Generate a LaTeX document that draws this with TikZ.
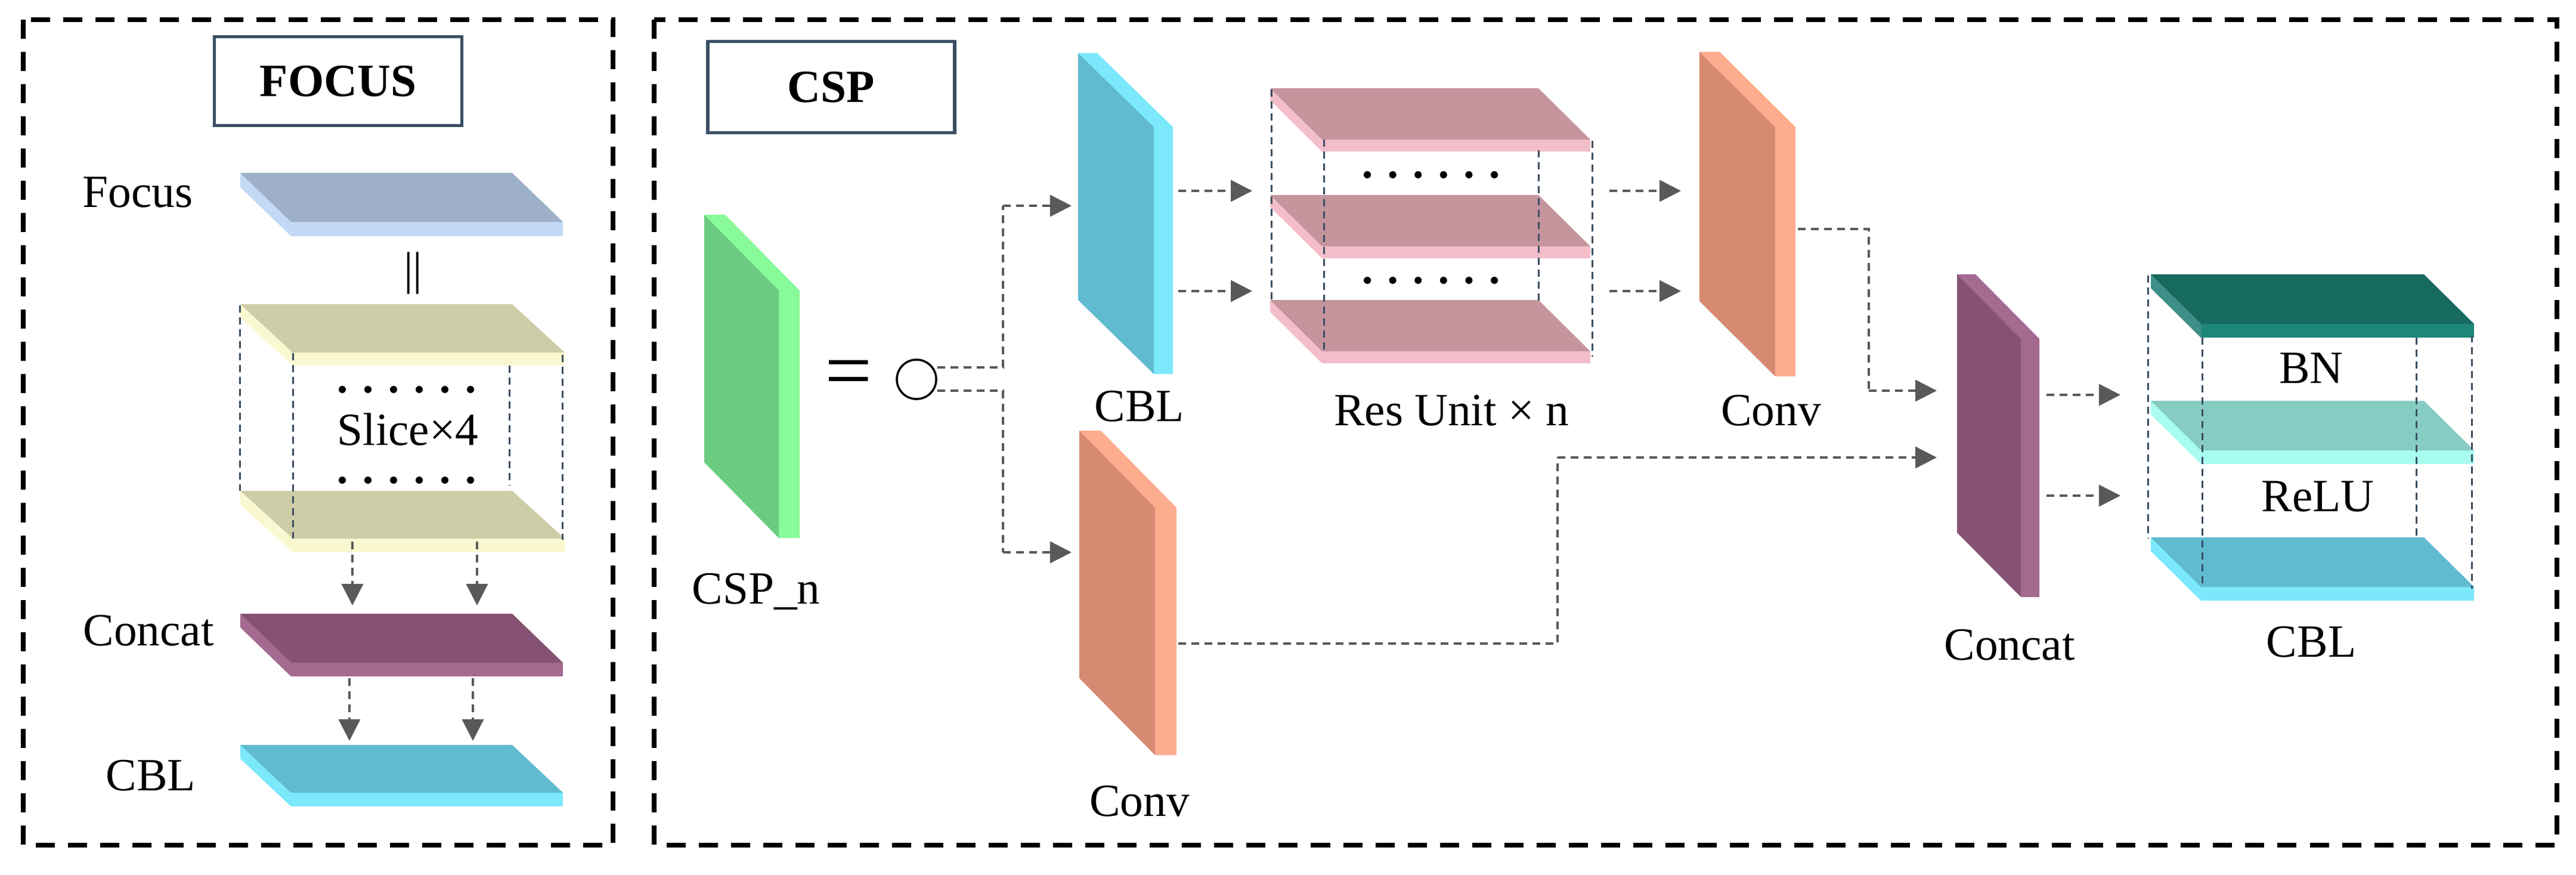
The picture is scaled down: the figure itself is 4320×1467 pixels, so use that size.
\documentclass[tikz,border=0pt]{standalone}
\usepackage{fontspec}
\setmainfont{Liberation Serif}
\usetikzlibrary{arrows.meta}
\definecolor{slate}{HTML}{3A4E63}
\definecolor{agray}{HTML}{595959}
\tikzset{
 arr/.style={agray,line width=0.035cm,dash pattern=on 0.13cm off 0.09cm,-{Triangle[length=0.36cm,width=0.36cm]}},
 ln/.style={agray,line width=0.035cm,dash pattern=on 0.13cm off 0.09cm},
 guide/.style={slate,line width=0.03cm,dash pattern=on 0.12cm off 0.08cm},
 frame/.style={black,line width=0.085cm,dash pattern=on 0.32cm off 0.22cm},
 title/.style={draw=slate,line width=0.055cm,font=\fontsize{22}{26}\selectfont\bfseries,inner sep=0pt},
 lbl/.style={font=\fontsize{22}{26}\selectfont,inner sep=0pt}
}
\newcommand\hplate[9]{%
 \definecolor{ptop}{HTML}{#8}\definecolor{plight}{HTML}{#9}%
 \fill[plight] (#2,#3) -- ({#2+#5},{#3+#6}) -- ({#2+#5},{#3+#6+#7}) -- (#2,{#3+#7}) -- cycle;
 \fill[plight] ({#2+#5},{#3+#6}) rectangle ({#2+#5+#4},{#3+#6+#7});
 \fill[ptop] (#2,#3) -- ({#2+#4},#3) -- ({#2+#4+#5},{#3+#6}) -- ({#2+#5},{#3+#6}) -- cycle;
 \coordinate (#1) at ({#2+#5/2+#4/2},{#3+#6/2});}
\newcommand\vslab[9]{%
 \definecolor{sface}{HTML}{#8}\definecolor{slight}{HTML}{#9}%
 \fill[slight] (#2,#3) -- ({#2+#7},#3) -- ({#2+#4+#7},{#3+#5}) -- ({#2+#4+#7},{#3+#5+#6}) -- ({#2+#4},{#3+#5+#6}) -- ({#2+#4},{#3+#5}) -- cycle;
 \fill[sface] (#2,#3) -- ({#2+#4},{#3+#5}) -- ({#2+#4},{#3+#5+#6}) -- (#2,{#3+#6}) -- cycle;
 \coordinate (#1) at ({#2+#4/2},{#3+#5/2+#6/2});}
\newcommand\dotrow[3]{\foreach \k in {0,...,5}{\fill ({#1+\k*(#2)},#3) circle (6);}}
\begin{document}
\begin{tikzpicture}[x=0.01cm,y=-0.01cm]
\useasboundingbox (0,0) rectangle (4320,1467);
% frames
\draw[frame] (39,33) rectangle (1028,1417);
\draw[frame] (1097,33) rectangle (4288,1417);
\node[title,minimum width=4.15cm,minimum height=1.49cm] (tfocus) at (567,136) {FOCUS};
\node[title,minimum width=4.14cm,minimum height=1.53cm] (tcsp) at (1394,146) {CSP};
% ---------- FOCUS ----------
\hplate{pfocus}{403}{290}{456}{85}{82}{24}{9EAFC8}{C3DAF6}
\node[lbl] (lfocus) at (231,323) {Focus};
\node[lbl] (eq1) at (693,458) {||};
\hplate{ps1}{403}{510}{456}{88}{81}{22}{CDCDA8}{FAF8D0}
\hplate{ps2}{403}{823}{456}{88}{80}{23}{CDCDA8}{FAF8D0}
\draw[guide] (402,512) -- (402,823);
\draw[guide] (491,592) -- (491,903);
\draw[guide] (854,613) -- (854,814);
\draw[guide] (943,595) -- (943,905);
\dotrow{574}{43}{653}
\dotrow{574}{43}{805}
\node[lbl] (lslice) at (684,720) {Slice×4};
\hplate{pconcat}{403}{1029}{456}{85}{82}{23}{865273}{A46A90}
\node[lbl] (lconcat) at (249,1057) {Concat};
\hplate{pcbl}{403}{1249}{456}{85}{80}{23}{60BAD0}{7BE8FC}
\node[lbl] (lcbl) at (253,1300) {CBL};
\coordinate (f1) at (591,908); \coordinate (f2) at (591,1015);
\coordinate (f3) at (800,908); \coordinate (f4) at (800,1015);
\coordinate (f5) at (586,1137); \coordinate (f6) at (586,1242);
\coordinate (f7) at (793,1137); \coordinate (f8) at (793,1242);
\draw[arr] (f1) -- (f2); \draw[arr] (f3) -- (f4);
\draw[arr] (f5) -- (f6); \draw[arr] (f7) -- (f8);
% ---------- CSP ----------
\vslab{scsp}{1181}{360}{125}{127}{415}{35}{6BCC80}{88FA9A}
\node[lbl] (lcspn) at (1268,992) {CSP\_n};
\node[font=\fontsize{40}{44}\selectfont,inner sep=0pt] (eq2) at (1423,636) {=};
\node[draw,circle,line width=0.035cm,minimum size=0.66cm,inner sep=0pt] (circ) at (1537,636) {};
\vslab{scbl}{1808}{89}{127}{124}{414}{32}{60BAD0}{7BE8FC}
\node[lbl] (lcbl2) at (1911,681) {CBL};
\vslab{sconv1}{1810}{722}{127}{129}{415}{36}{D68A72}{FDAD8E}
\node[lbl] (lconv1) at (1911,1343) {Conv};
\hplate{r1}{2130}{148}{450}{87}{86}{20}{C5959E}{F3BECA}
\hplate{r2}{2130}{327}{450}{87}{86}{20}{C5959E}{F3BECA}
\hplate{r3}{2130}{503}{450}{87}{86}{20}{C5959E}{F3BECA}
\draw[guide] (2132,150) -- (2132,505);
\draw[guide] (2220,234) -- (2220,589);
\draw[guide] (2580,252) -- (2580,505);
\draw[guide] (2670,236) -- (2670,598);
\dotrow{2293}{42.6}{293}
\dotrow{2293}{42.6}{470}
\node[lbl] (lres) at (2434,688) {Res Unit × n};
\vslab{sconv2}{2850}{87}{127}{126}{418}{34}{D68A72}{FDAD8E}
\node[lbl] (lconv2) at (2970,688) {Conv};
\vslab{scat}{3282}{460}{107}{108}{433}{31}{865273}{A46A90}
\node[lbl] (lcat2) at (3370,1081) {Concat};
\hplate{b1}{3607}{460}{458}{84}{83}{23}{176A60}{1E8878}
\definecolor{bside}{HTML}{3F8F88}
\fill[bside] (3607,460) -- (3691,543) -- (3691,566) -- (3607,483) -- cycle;
\hplate{b2}{3607}{672}{458}{84}{83}{23}{87CCC2}{A9FDEF}
\hplate{b3}{3607}{901}{458}{84}{83}{23}{60BAD0}{7BE8FC}
\draw[guide] (3602,462) -- (3602,903);
\draw[guide] (3693,566) -- (3693,984);
\draw[guide] (4052,566) -- (4052,903);
\draw[guide] (4145,562) -- (4145,987);
\node[lbl] (lbn) at (3876,617) {BN};
\node[lbl] (lrelu) at (3887,833) {ReLU};
\node[lbl] (lcbl3) at (3876,1076) {CBL};
% connectors
\coordinate (c1) at (1682,345); \coordinate (c1e) at (1797,345);
\coordinate (c2) at (1682,926); \coordinate (c2e) at (1797,926);
\draw[ln] ([yshift=0.2cm]circ.east) -| (c1); \draw[arr] (c1) -- (c1e);
\draw[ln] ([yshift=-0.19cm]circ.east) -| (c2); \draw[arr] (c2) -- (c2e);
\coordinate (a1) at (1976,320); \coordinate (a1e) at (2100,320);
\coordinate (a2) at (1976,488); \coordinate (a2e) at (2100,488);
\draw[arr] (a1) -- (a1e); \draw[arr] (a2) -- (a2e);
\coordinate (a3) at (2699,320); \coordinate (a3e) at (2819,320);
\coordinate (a4) at (2699,488); \coordinate (a4e) at (2819,488);
\draw[arr] (a3) -- (a3e); \draw[arr] (a4) -- (a4e);
\coordinate (a5) at (3015,384); \coordinate (a5m) at (3134,655); \coordinate (a5e) at (3248,655);
\draw[ln] (a5) -| (a5m); \draw[arr] (a5m) -- (a5e);
\coordinate (a6) at (1976,1079); \coordinate (a6m) at (2612,767); \coordinate (a6e) at (3248,767);
\draw[ln] (a6) -| (a6m); \draw[arr] (a6m) -- (a6e);
\coordinate (a7) at (3432,662); \coordinate (a7e) at (3556,662);
\coordinate (a8) at (3432,831); \coordinate (a8e) at (3556,831);
\draw[arr] (a7) -- (a7e); \draw[arr] (a8) -- (a8e);
\end{tikzpicture}
\end{document}
